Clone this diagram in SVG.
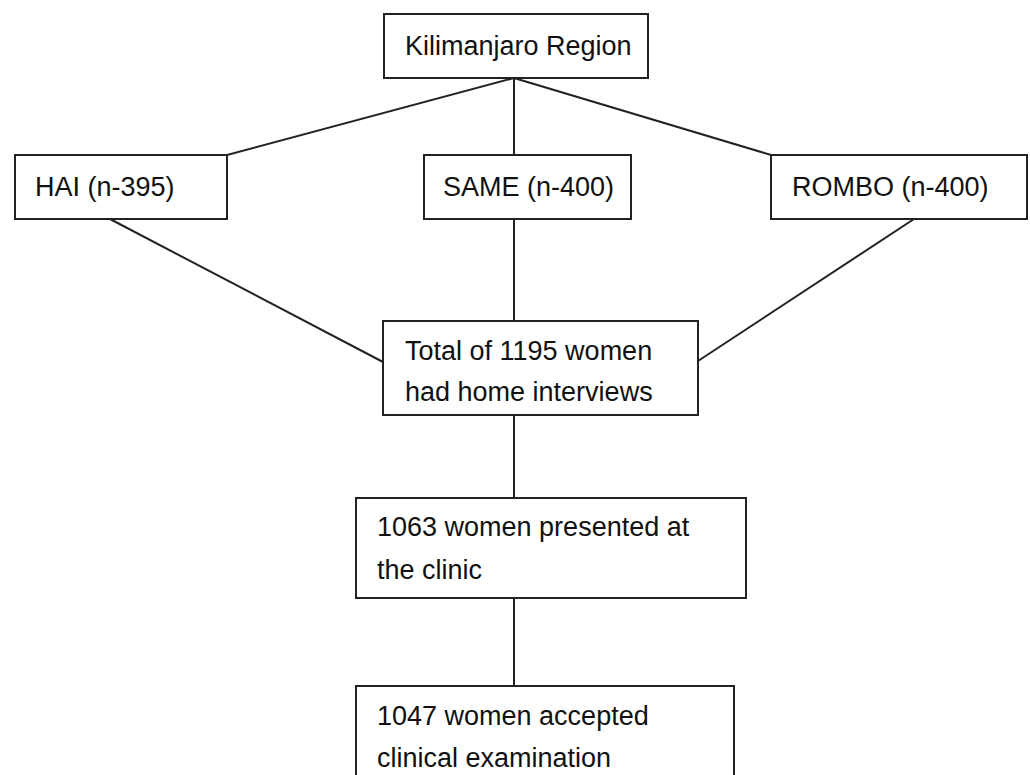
<svg xmlns="http://www.w3.org/2000/svg" width="1030" height="775" viewBox="0 0 1030 775">
<style>
.box{fill:#fff;stroke:#222;stroke-width:2}
.lbl{font-family:"Liberation Sans",Arial,sans-serif;font-size:27px;fill:#111}
.con{stroke:#222;stroke-width:2;fill:none}
</style>
<rect width="1030" height="775" fill="#fff"/>
<g id="connectors">
<line class="con" x1="514" y1="78" x2="227" y2="155"/>
<line class="con" x1="514" y1="78" x2="514" y2="155"/>
<line class="con" x1="514" y1="78" x2="771" y2="155"/>
<line class="con" x1="110" y1="219" x2="383" y2="362"/>
<line class="con" x1="514" y1="219" x2="514" y2="321"/>
<line class="con" x1="914" y1="219" x2="698" y2="361"/>
<line class="con" x1="514" y1="415" x2="514" y2="498"/>
<line class="con" x1="514" y1="598" x2="514" y2="686"/>
</g>
<g id="kilimanjaro">
<rect class="box" x="384" y="14" width="264" height="64"/>
<text class="lbl" x="405" y="55">Kilimanjaro Region</text>
</g>
<g id="hai">
<rect class="box" x="15" y="155" width="212" height="64"/>
<text class="lbl" x="35" y="196">HAI (n-395)</text>
</g>
<g id="same">
<rect class="box" x="424" y="155" width="207" height="64"/>
<text class="lbl" x="443" y="196">SAME (n-400)</text>
</g>
<g id="rombo">
<rect class="box" x="771" y="155" width="256" height="64"/>
<text class="lbl" x="792" y="196">ROMBO (n-400)</text>
</g>
<g id="total">
<rect class="box" x="383" y="321" width="315" height="94"/>
<text class="lbl" x="405" y="360">Total of 1195 women</text>
<text class="lbl" x="405" y="401">had home interviews</text>
</g>
<g id="clinic">
<rect class="box" x="356" y="498" width="390" height="100"/>
<text class="lbl" x="377" y="536">1063 women presented at</text>
<text class="lbl" x="377" y="579">the clinic</text>
</g>
<g id="exam">
<rect class="box" x="356" y="686" width="378" height="100"/>
<text class="lbl" x="377" y="725">1047 women accepted</text>
<text class="lbl" x="377" y="767">clinical examination</text>
</g>
</svg>
